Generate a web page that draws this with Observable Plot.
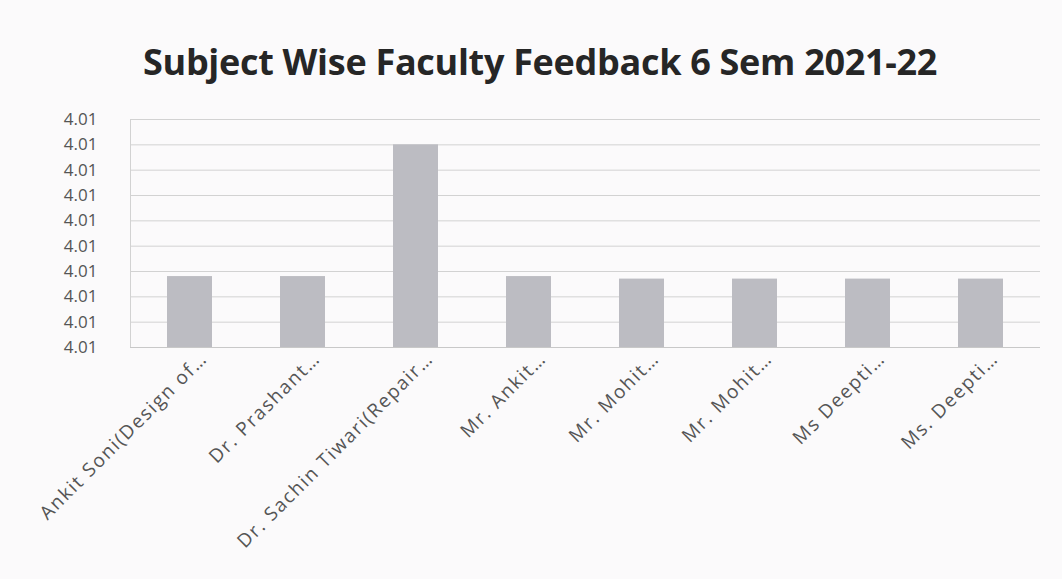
<!DOCTYPE html>
<html>
<head>
<meta charset="utf-8">
<script src="https://cdn.jsdelivr.net/npm/d3@7"></script>
<script src="https://cdn.jsdelivr.net/npm/@observablehq/plot@0.6"></script>
<style>
  html, body { margin: 0; padding: 0; background: #fbfafb; }
  #wrap { position: relative; width: 1062px; height: 579px; overflow: hidden; background: #fbfafb; }
  #title { position: absolute; left: 143px; top: 37px; font: 700 36px "Open Sans", sans-serif; color: #262626; white-space: nowrap; letter-spacing: -0.3px; }
  #chart { position: absolute; left: 0; top: 0; }
  #chart svg g[aria-label="x-axis tick label"] text { letter-spacing: 1.7px; }
</style>
</head>
<body>
<div id="wrap">
  <div id="title">Subject Wise Faculty Feedback 6 Sem 2021-22</div>
  <div id="chart"></div>
</div>
<script>
const categories = [0, 1, 2, 3, 4, 5, 6, 7];
const xLabels = [
  "Ankit Soni(Design of…",
  "Dr. Prashant…",
  "Dr. Sachin Tiwari(Repair…",
  "Mr. Ankit…",
  "Mr. Mohit…",
  "Mr. Mohit…",
  "Ms Deepti…",
  "Ms. Deepti…"
];
const values = [4.01028, 4.01028, 4.01080, 4.01028, 4.01027, 4.01027, 4.01027, 4.01027];
const yTicks = [4.0100, 4.0101, 4.0102, 4.0103, 4.0104, 4.0105, 4.0106, 4.0107, 4.0108, 4.0109];

const data = categories.map((c, i) => ({cat: c, value: values[i]}));

const chart = Plot.plot({
  width: 1062,
  height: 579,
  marginTop: 119,
  marginBottom: 232,
  marginLeft: 130,
  marginRight: 22,
  style: {fontFamily: "'Open Sans', sans-serif", background: "transparent"},
  x: {type: "band", domain: categories, paddingInner: 0.6, paddingOuter: 0.3, label: null},
  y: {domain: [yTicks[0], yTicks[yTicks.length - 1]], label: null},
  marks: [
    Plot.gridY(yTicks, {stroke: "#d2d2d2", strokeOpacity: 1}),
    Plot.frame({anchor: "left", stroke: "#d2d2d2"}),
    Plot.barY(data, {x: "cat", y1: yTicks[0], y2: "value", fill: "#bcbcc2"}),
    Plot.ruleY([yTicks[0]], {stroke: "#c8c8c8"}),
    Plot.axisY(yTicks, {tickFormat: d3.format(".2f"), tickSize: 0, tickPadding: 33, fontSize: 17, fill: "#555", label: null}),
    Plot.axisX({tickFormat: i => xLabels[i], tickRotate: -45, tickSize: 0, tickPadding: 8, dx: 14, fontSize: 19, fill: "#555", label: null})
  ]
});
document.getElementById("chart").appendChild(chart);
</script>
</body>
</html>
